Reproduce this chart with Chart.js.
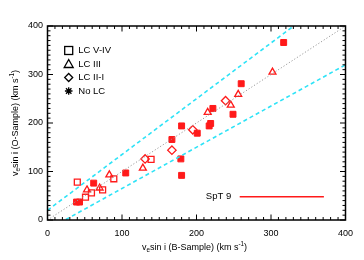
<!DOCTYPE html>
<html><head><meta charset="utf-8">
<script src="https://cdn.jsdelivr.net/npm/chart.js@4/dist/chart.umd.min.js"></script>
<style>html,body{margin:0;padding:0;background:#fff}canvas{display:block}</style>
</head><body>
<canvas id="c" width="364" height="260"></canvas>
<script>
// ---- data ----
const xTicks = [0, 100, 200, 300, 400];
const yTicks = [0, 100, 200, 300, 400];
const legendLabels = ['LC V-IV', 'LC III', 'LC II-I', 'No LC'];

const lcVIV_x = [40, 51, 59, 74, 89, 139];
const lcVIV_y = [78, 47, 56, 62, 85, 125];
const lcIII_x = [53, 70, 83, 128, 215, 246, 256, 302];
const lcIII_y = [62, 66, 93, 107, 222, 237, 259, 305];
const lcIII_I_x = [131, 167, 195, 239];
const lcIII_I_y = [126, 144, 186, 246];
const noLC_x = [39, 43, 62, 105, 167, 180, 179, 180, 201, 217, 219, 222, 249, 260, 317];
const noLC_y = [37, 37, 76, 97, 166, 194, 126, 92, 179, 194, 199, 230, 218, 281, 366];

const oneToOne_x = [0, 400];
const oneToOne_y = [0, 400];
const upper_x = [0, 400];
const upper_y = [20, 480];
const lower_x = [0, 400];
const lower_y = [-20, 320];
const spt_x = [258, 371];
const spt_y = [48, 48];
const sptLabel = 'SpT 9';

// ---- helpers ----
const FONT = '"Liberation Sans", Arial, Helvetica, sans-serif';
const RED = '#ff1a1a';
const CYAN = '#2fe3f7';
function pts(xs, ys) { return xs.map((x, i) => ({ x: x, y: ys[i] })); }

function richWidth(ctx, parts, size) {
  let w = 0;
  parts.forEach(p => {
    const s = (p.sub || p.sup) ? size * 0.7 : size;
    ctx.font = s + 'px ' + FONT;
    w += ctx.measureText(p.t).width;
  });
  return w;
}
function drawRich(ctx, parts, cx, cy, size) {
  const w = richWidth(ctx, parts, size);
  let x = cx - w / 2;
  ctx.textAlign = 'left';
  ctx.textBaseline = 'middle';
  parts.forEach(p => {
    const s = (p.sub || p.sup) ? size * 0.7 : size;
    ctx.font = s + 'px ' + FONT;
    const dy = p.sub ? size * 0.3 : (p.sup ? -size * 0.38 : 0);
    ctx.fillText(p.t, x, cy + dy);
    x += ctx.measureText(p.t).width;
  });
}

const decor = {
  id: 'decor',
  afterDraw(chart) {
    const ctx = chart.ctx;
    const a = chart.chartArea;
    const xs = chart.scales.x, ys = chart.scales.y;
    ctx.save();
    ctx.strokeStyle = '#000';
    ctx.fillStyle = '#000';
    // ticks
    ctx.lineWidth = 1;
    ctx.beginPath();
    for (let v = 0; v <= 400; v += 10) {
      const len = (v % 100 === 0) ? 5.5 : 3;
      const px = xs.getPixelForValue(v);
      ctx.moveTo(px, a.bottom); ctx.lineTo(px, a.bottom - len);
      ctx.moveTo(px, a.top); ctx.lineTo(px, a.top + len);
      const py = ys.getPixelForValue(v);
      ctx.moveTo(a.left, py); ctx.lineTo(a.left + len, py);
      ctx.moveTo(a.right, py); ctx.lineTo(a.right - len, py);
    }
    ctx.stroke();
    // frame
    ctx.lineWidth = 1.5;
    ctx.strokeRect(a.left, a.top, a.right - a.left, a.bottom - a.top);

    // axis titles
    drawRich(ctx, [{t:'v'},{t:'e',sub:true},{t:'sin i (B-Sample) (km s'},{t:'-1',sup:true},{t:')'}],
      (a.left + a.right) / 2 - 2, 248, 9);
    ctx.save();
    ctx.translate(15.5, (a.top + a.bottom) / 2);
    ctx.rotate(-Math.PI / 2);
    drawRich(ctx, [{t:'v'},{t:'e',sub:true},{t:'sin i (O-Sample) (km s'},{t:'-1',sup:true},{t:')'}],
      0, 0, 9);
    ctx.restore();

    // legend
    const lx = 68.7, tx = 78.3;
    const rows = [50.5, 64, 77.5, 91];
    ctx.lineWidth = 1.3;
    // square
    ctx.strokeRect(lx - 4, rows[0] - 4, 8, 8);
    // triangle
    ctx.beginPath();
    ctx.moveTo(lx, rows[1] - 4.5); ctx.lineTo(lx + 4.5, rows[1] + 3.5); ctx.lineTo(lx - 4.5, rows[1] + 3.5); ctx.closePath();
    ctx.stroke();
    // diamond
    ctx.beginPath();
    ctx.moveTo(lx, rows[2] - 4); ctx.lineTo(lx + 4, rows[2]); ctx.lineTo(lx, rows[2] + 4); ctx.lineTo(lx - 4, rows[2]); ctx.closePath();
    ctx.stroke();
    // asterisk
    ctx.beginPath();
    const r = 3.8, d = r * 0.72;
    ctx.moveTo(lx, rows[3] - r); ctx.lineTo(lx, rows[3] + r);
    ctx.moveTo(lx - r, rows[3]); ctx.lineTo(lx + r, rows[3]);
    ctx.moveTo(lx - d, rows[3] - d); ctx.lineTo(lx + d, rows[3] + d);
    ctx.moveTo(lx - d, rows[3] + d); ctx.lineTo(lx + d, rows[3] - d);
    ctx.stroke();
    ctx.font = '9.5px ' + FONT;
    ctx.textAlign = 'left';
    ctx.textBaseline = 'middle';
    legendLabels.forEach((t, i) => ctx.fillText(t, tx, rows[i]));

    // SpT label
    ctx.textAlign = 'right';
    ctx.fillText(sptLabel, xs.getPixelForValue(spt_x[0]) - 8.5, ys.getPixelForValue(spt_y[0]));
    ctx.restore();
  }
};

const lineDs = (xs, ys, color, dash, width) => ({
  type: 'line', data: pts(xs, ys), borderColor: color, borderDash: dash,
  borderWidth: width, pointRadius: 0, showLine: true, fill: false, tension: 0
});
const markDs = (xs, ys, style, radius, filled) => ({
  type: 'scatter', data: pts(xs, ys), pointStyle: style, pointRadius: radius,
  borderColor: RED, backgroundColor: filled ? RED : 'rgba(0,0,0,0)',
  borderWidth: filled ? 1 : 1.3
});

new Chart(document.getElementById('c'), {
  type: 'scatter',
  data: {
    datasets: [
      lineDs(oneToOne_x, oneToOne_y, '#9a9a9a', [1.2, 2], 1),
      lineDs(upper_x, upper_y, CYAN, [4, 3], 1.6),
      lineDs(lower_x, lower_y, CYAN, [4, 3], 1.6),
      markDs(lcVIV_x, lcVIV_y, 'rect', 4.2, false),
      markDs(lcIII_x, lcIII_y, 'triangle', 4, false),
      markDs(lcIII_I_x, lcIII_I_y, 'rectRot', 4.2, false),
      markDs(noLC_x, noLC_y, 'rect', 4.2, true),
      lineDs(spt_x, spt_y, RED, [], 1.5)
    ]
  },
  options: {
    responsive: false,
    animation: false,
    devicePixelRatio: 1,
    layout: { padding: { left: 0, top: 26, right: 18.5, bottom: 0 } },
    plugins: { legend: { display: false }, tooltip: { enabled: false } },
    scales: {
      x: {
        type: 'linear', min: 0, max: 400,
        afterBuildTicks: s => { s.ticks = xTicks.map(v => ({ value: v })); },
        afterFit: s => { s.height = 40; },
        grid: { display: false, drawTicks: false },
        border: { display: false },
        ticks: { padding: 8, color: '#000', font: { family: FONT, size: 9 }, maxRotation: 0, autoSkip: false }
      },
      y: {
        type: 'linear', min: 0, max: 400,
        afterBuildTicks: s => { s.ticks = yTicks.map(v => ({ value: v })); },
        afterFit: s => { s.width = 47.5; },
        grid: { display: false, drawTicks: false },
        border: { display: false },
        ticks: { padding: 4.5, color: '#000', font: { family: FONT, size: 9 }, autoSkip: false }
      }
    }
  },
  plugins: [decor]
});
</script>
</body></html>
